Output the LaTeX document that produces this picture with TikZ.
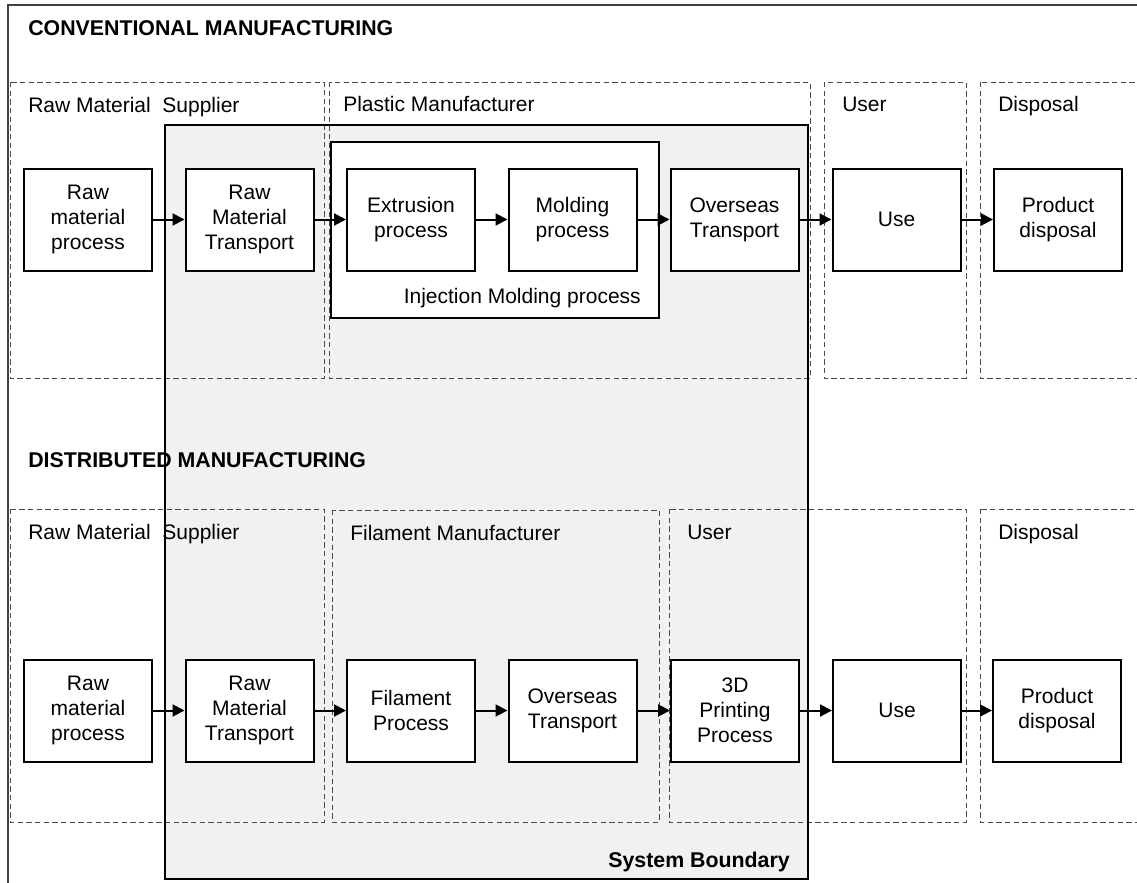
\documentclass[tikz,border=0pt]{standalone}
\usepackage{fontspec}
\setmainfont{Liberation Sans}
\usetikzlibrary{arrows.meta}

\definecolor{boundfill}{HTML}{F1F1F1}
\definecolor{framegray}{HTML}{404040}
\definecolor{zonegray}{HTML}{4A4A4A}

\begin{document}
\begin{tikzpicture}[x=0.75pt,y=-0.75pt,
  proc/.style={draw, line width=1.5pt, fill=white, minimum width=96pt,
    minimum height=76.5pt, align=center, inner sep=0pt,
    font=\fontsize{15.75}{18.75}\selectfont},
  zone/.style={draw=zonegray, dash pattern=on 4pt off 2.5pt, line width=0.7pt},
  lbl/.style={anchor=base west, inner sep=0pt, font=\fontsize{15.75}{18}\selectfont},
  head/.style={anchor=base west, inner sep=0pt, font=\bfseries\fontsize{16}{18}\selectfont},
  flow/.style={-{Triangle[length=9pt,width=9pt]}, line width=1.5pt}
]
\useasboundingbox (0,0) rectangle (1137,882);
\clip (0,0) rectangle (1137,882);

% outer frame (runs off the page on the right and bottom)
\draw[framegray, line width=1.2pt] (1150,5) -- (8,5) -- (8,900);

% system boundary background
\fill[boundfill] (165,125) rectangle (808,879);

% organisational zones, conventional route
\draw[zone] (10,82) rectangle (324,378);
\draw[zone] (329,82) rectangle (810,378);
\draw[zone] (824,82) rectangle (966,378);
\draw[zone] (980,82) rectangle (1160,378);

% organisational zones, distributed route
\draw[zone] (10,509) rectangle (324,822);
\draw[zone] (332,510) rectangle (659,822);
\draw[zone] (669,509) rectangle (966,822);
\draw[zone] (980,509) rectangle (1160,822);

% system boundary border
\draw[line width=1.5pt] (165,125) rectangle (808,879);

% injection moulding group
\draw[line width=1.5pt, fill=white] (331,142) rectangle (659,318);

% headings and zone labels
\node[head] (hconv) at (28,35) {CONVENTIONAL MANUFACTURING};
\node[head] (hdist) at (28,467) {DISTRIBUTED MANUFACTURING};

\node[lbl] (zrms1) at (28,112) {Raw Material\ \ Supplier};
\node[lbl] (zpm)   at (343,111) {Plastic Manufacturer};
\node[lbl] (zus1)  at (842,111) {User};
\node[lbl] (zdp1)  at (998,111) {Disposal};

\node[lbl] (zrms2) at (28,539) {Raw Material\ \ Supplier};
\node[lbl] (zfm)   at (350,540) {Filament Manufacturer};
\node[lbl] (zus2)  at (687,539) {User};
\node[lbl] (zdp2)  at (998,539) {Disposal};

\node[lbl, anchor=base east] (inj) at (641,303) {Injection Molding process};
\node[head, anchor=base east] (sb) at (790,867) {System Boundary};

% process chain, conventional route
\node[proc] (rmp1) at (88,219.5)    {Raw\\material\\process};
\node[proc] (rmt1) at (249.5,219.5) {Raw\\Material\\Transport};
\node[proc] (ext)  at (411,219.5)   {Extrusion\\process};
\node[proc] (mold) at (572.5,219.5) {Molding\\process};
\node[proc] (ot1)  at (734.5,219.5) {Overseas\\Transport};
\node[proc] (use1) at (896.5,219.5) {Use};
\node[proc] (pd1)  at (1058,219.5)  {Product\\disposal};

% process chain, distributed route
\node[proc] (rmp2) at (88,710.5)    {Raw\\material\\process};
\node[proc] (rmt2) at (249.5,710.5) {Raw\\Material\\Transport};
\node[proc] (fil)  at (411,710.5)   {Filament\\Process};
\node[proc] (ot2)  at (572.5,710.5) {Overseas\\Transport};
\node[proc] (pr3d) at (735,710.5)   {3D\\Printing\\Process};
\node[proc] (use2) at (897,710.5)   {Use};
\node[proc] (pd2)  at (1057,710.5)  {Product\\disposal};

% flows
\draw[flow] (rmp1) -- (rmt1);
\draw[flow] (rmt1) -- (ext);
\draw[flow] (ext)  -- (mold);
\draw[flow] (mold) -- (ot1);
\draw[flow] (ot1)  -- (use1);
\draw[flow] (use1) -- (pd1);

\draw[flow] (rmp2) -- (rmt2);
\draw[flow] (rmt2) -- (fil);
\draw[flow] (fil)  -- (ot2);
\draw[flow] (ot2)  -- (pr3d);
\draw[flow] (pr3d) -- (use2);
\draw[flow] (use2) -- (pd2);
\end{tikzpicture}
\end{document}
